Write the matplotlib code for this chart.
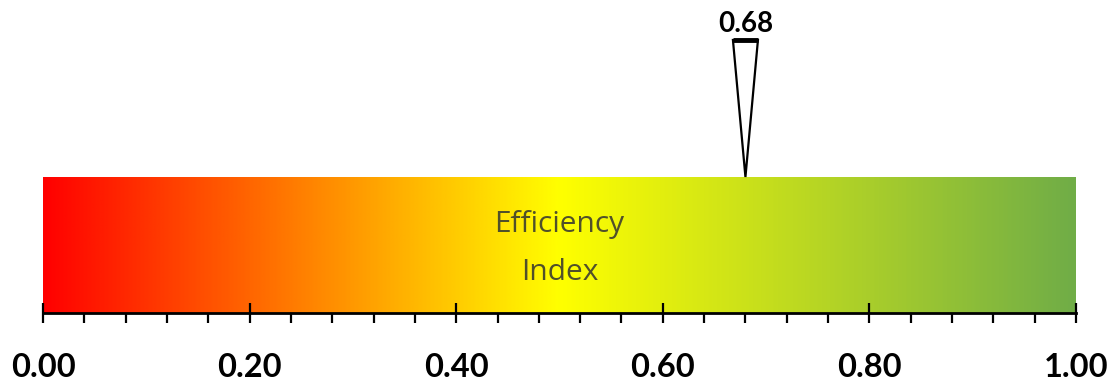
import numpy as np
import matplotlib
matplotlib.use("Agg")
import matplotlib.pyplot as plt
from matplotlib.colors import LinearSegmentedColormap
from matplotlib.ticker import MultipleLocator, FixedLocator

# ---- data ----
value = 0.68
value_label = "0.68"
title_text = "Efficiency\nIndex"
major_ticks = [0.0, 0.2, 0.4, 0.6, 0.8, 1.0]
tick_labels = ["0.00", "0.20", "0.40", "0.60", "0.80", "1.00"]
grad_stops = [0.0, 0.5, 1.0]
grad_colors = ["#ff0000", "#ffff00", "#70ad47"]

plt.rcParams['font.family'] = ['Lato', 'DejaVu Sans']

fig = plt.figure(figsize=(11.2, 3.85), dpi=100)
ax = fig.add_axes([43/1120, 72/385, 1033/1120, 313/385])
ax.set_xlim(0, 1)
ax.set_ylim(0, 1)

bar_h = (313 - 177) / 313
cmap = LinearSegmentedColormap.from_list("ryg", list(zip(grad_stops, grad_colors)))
grad = np.linspace(0, 1, 512)[None, :]
ax.imshow(grad, cmap=cmap, extent=[0, 1, 0, bar_h], aspect='auto', origin='lower', zorder=1)

ax.text(0.5, bar_h / 2 - 0.012, title_text, ha='center', va='center', fontsize=21.5,
        family=['Open Sans', 'DejaVu Sans'],
        color='#50502a', linespacing=1.85, zorder=3)

# marker triangle
hw = 0.0121
tri_top = (313 - 40) / 313
ax.fill([value - hw, value + hw, value], [tri_top, tri_top, bar_h],
        facecolor='white', edgecolor='black', linewidth=1.6, zorder=4, clip_on=False)
ax.plot([value - hw, value + hw], [tri_top, tri_top], color='black', linewidth=3.5,
        solid_capstyle='butt', zorder=5, clip_on=False)
ax.text(value, (313 - 24) / 313, value_label, ha='center', va='center', fontsize=20,
        fontweight='bold', color='black', zorder=5)

for s in ['top', 'right', 'left']:
    ax.spines[s].set_visible(False)
ax.spines['bottom'].set_linewidth(2.0)
ax.spines['bottom'].set_zorder(6)
ax.set_yticks([])
ax.xaxis.set_major_locator(FixedLocator(major_ticks))
ax.set_xticklabels(tick_labels)
ax.xaxis.set_minor_locator(MultipleLocator(0.04))
ax.tick_params(axis='x', which='major', direction='inout', length=14.5, width=1.6,
               labelsize=23.5, pad=21.5)
ax.tick_params(axis='x', which='minor', direction='out', length=7.5, width=1.6)
for lbl in ax.get_xticklabels():
    lbl.set_fontweight('bold')

fig.savefig("out.png", dpi=100)
